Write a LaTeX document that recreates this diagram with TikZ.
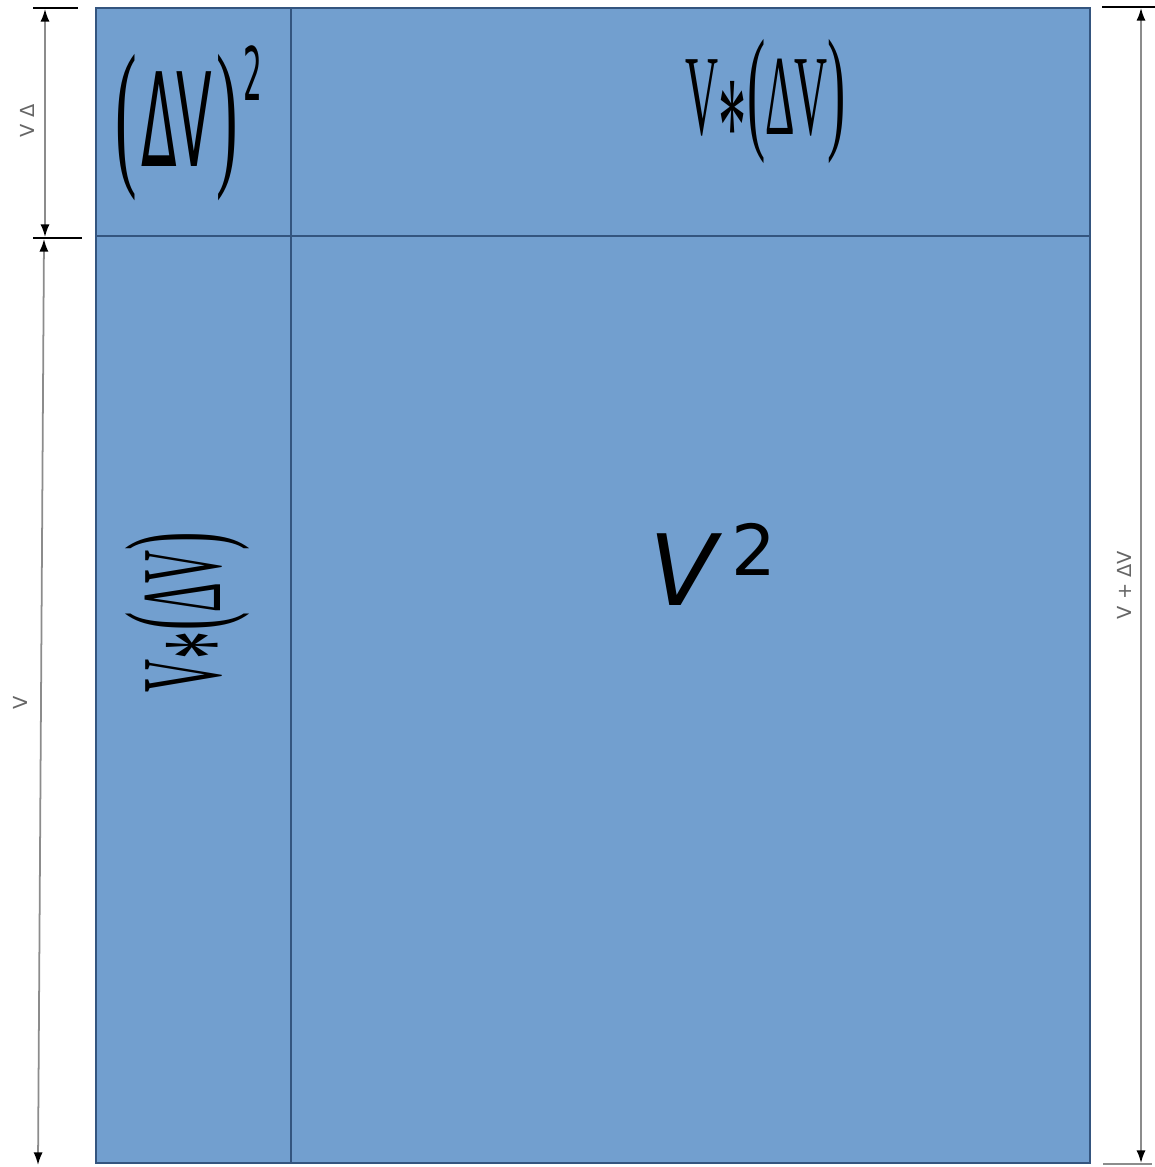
\documentclass[tikz,border=0pt]{standalone}
\usepackage{fontspec}
\usepackage{graphicx}
\usetikzlibrary{arrows.meta}
\setmainfont{Liberation Serif}
\newfontfamily\sansfam{DejaVu Sans}
\definecolor{areablue}{HTML}{729FCF}
\definecolor{areaedge}{HTML}{34557F}
\definecolor{dimgray}{HTML}{8C8C8C}
\newcommand{\squeeze}[1]{\scalebox{0.4}[1]{#1}}
\newcommand{\thinparen}[2]{{\rmfamily\fontsize{#1}{#1}\selectfont#2}}
\newcommand{\prodterm}{\squeeze{\fontsize{32.5}{33}\selectfont V\raisebox{-11pt}{\fontsize{40}{40}\selectfont*}\thinparen{39}{(}ΔV\thinparen{39}{)}}}
\begin{document}
\begin{tikzpicture}[x=0.01cm, y=-0.01cm,
  dim/.style={draw=dimgray, line width=0.5pt,
    {Latex[length=3.6pt,width=2.6pt,color=black]}-{Latex[length=3.6pt,width=2.6pt,color=black]}},
  tick/.style={draw=black, line width=0.5pt},
  lab/.style={font=\sansfam\fontsize{5.5}{6}\selectfont, text=black!60, inner sep=1pt, rotate=90},
  term/.style={inner sep=0pt, anchor=base}]
  \useasboundingbox (0,0) rectangle (1154,1167);
  \draw[areaedge, fill=areablue, line width=0.5pt] (96,8) rectangle (1090,1163);
  \draw[areaedge, line width=0.5pt] (96,236) -- (1090,236);
  \draw[areaedge, line width=0.5pt] (291,8) -- (291,1163);
  \draw[tick] (33,8) -- (78,8);
  \draw[tick] (33,238) -- (82,238);
  \draw[tick] (1102,7) -- (1155,7);
  \draw[tick, draw=dimgray] (1103,1164) -- (1152,1164);
  \coordinate (dvtop) at (45,9);
  \coordinate (dvbot) at (45,237);
  \coordinate (vtop) at (44,239);
  \coordinate (vbot) at (38,1165);
  \coordinate (sumtop) at (1141,8);
  \coordinate (sumbot) at (1141,1163);
  \draw[dim] (dvtop) -- (dvbot);
  \draw[dim] (vtop) -- (vbot);
  \draw[dim] (sumtop) -- (sumbot);
  \node[lab] (dvlab) at (27,121) {V Δ};
  \node[lab] (vlab) at (20,703) {V};
  \node[lab] (sumlab) at (1124,585) {V + ΔV};
  \node[term] (sq) at (189,167) {\squeeze{\sansfam\thinparen{46}{(}\hspace{3pt}\fontsize{37}{37}\selectfont ΔV\hspace{3pt}\thinparen{46}{)}\hspace{4pt}\raisebox{19pt}{\fontsize{21}{21}\selectfont 2}}};
  \node[term] (topstrip) at (766,135) {\prodterm};
  \node[term, rotate=90] (leftstrip) at (220,612) {\prodterm};
  \node[term] (main) at (713,605) {\sansfam\fontsize{28}{28}\selectfont\itshape V\upshape\hspace{4pt}\raisebox{8.3pt}{\fontsize{20}{20}\selectfont 2}};
\end{tikzpicture}
\end{document}
